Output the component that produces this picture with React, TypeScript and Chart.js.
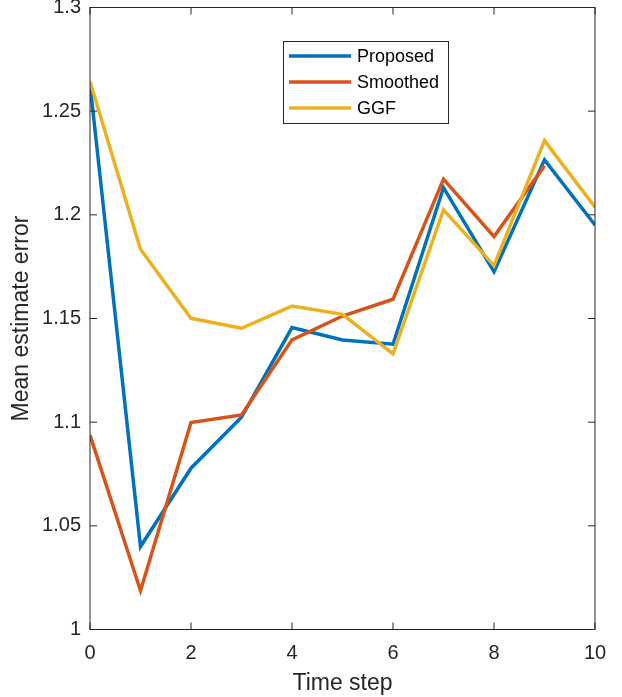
import React, { useEffect, useRef } from "react";
import { Chart, registerables } from "chart.js";

Chart.register(...registerables);

const timeSteps = [0, 1, 2, 3, 4, 5, 6, 7, 8, 9, 10];
const proposed = [1.263, 1.040, 1.0778, 1.1024, 1.1456, 1.1396, 1.1376, 1.2131, 1.1726, 1.2265, 1.1951];
const smoothed = [1.0938, 1.0187, 1.0998, 1.1035, 1.1397, 1.1512, 1.1593, 1.2172, 1.1895, 1.2237];
const ggf = [1.2643, 1.1834, 1.1501, 1.1453, 1.156, 1.152, 1.1329, 1.2024, 1.1755, 1.2358, 1.2037];
const seriesNames = ["Proposed", "Smoothed", "GGF"];
const seriesColors = ["#0072BD", "#D95319", "#EDB120"];
const xTickStep = 2;
const yMin = 1;
const yMax = 1.3;
const yTickStep = 0.05;

const FONT = "'Liberation Sans', Arial, Helvetica, sans-serif";
const AXIS_COLOR = "#262626";

const boxPlugin = {
  id: "matlabBox",
  afterDraw(chart: any) {
    const { ctx, chartArea } = chart;
    const { left, right, top, bottom } = chartArea;
    const xs = chart.scales.x;
    const ys = chart.scales.y;
    ctx.save();
    ctx.strokeStyle = AXIS_COLOR;
    ctx.lineWidth = 1;
    ctx.strokeRect(left, top, right - left, bottom - top);
    const tl = 7;
    ctx.beginPath();
    xs.ticks.forEach((t: any) => {
      const px = xs.getPixelForValue(t.value);
      ctx.moveTo(px, bottom);
      ctx.lineTo(px, bottom - tl);
      ctx.moveTo(px, top);
      ctx.lineTo(px, top + tl);
    });
    ys.ticks.forEach((t: any) => {
      const py = ys.getPixelForValue(t.value);
      ctx.moveTo(left, py);
      ctx.lineTo(left + tl, py);
      ctx.moveTo(right, py);
      ctx.lineTo(right - tl, py);
    });
    ctx.stroke();

    // legend
    const bx = 283, by = 41, bw = 165, bh = 82;
    ctx.fillStyle = "#ffffff";
    ctx.fillRect(bx, by, bw, bh);
    ctx.strokeStyle = AXIS_COLOR;
    ctx.lineWidth = 1;
    ctx.strokeRect(bx + 0.5, by + 0.5, bw, bh);
    ctx.font = `18px ${FONT}`;
    ctx.textBaseline = "middle";
    ctx.textAlign = "left";
    chart.data.datasets.forEach((ds: any, i: number) => {
      const yy = 56 + i * 26;
      ctx.strokeStyle = ds.borderColor;
      ctx.lineWidth = 3.5;
      ctx.beginPath();
      ctx.moveTo(289, yy);
      ctx.lineTo(351, yy);
      ctx.stroke();
      ctx.fillStyle = "#000000";
      ctx.fillText(ds.label, 357, yy + 1);
    });
    ctx.restore();
  },
};

export default function App() {
  const ref = useRef<HTMLCanvasElement | null>(null);
  useEffect(() => {
    if (!ref.current) return;
    const allSeries = [proposed, smoothed, ggf];
    const chart = new Chart(ref.current, {
      type: "line",
      data: {
        datasets: allSeries.map((vals, i) => ({
          label: seriesNames[i],
          data: vals.map((v, k) => ({ x: timeSteps[k], y: v })),
          borderColor: seriesColors[i],
          backgroundColor: seriesColors[i],
          borderWidth: 3.5,
          pointRadius: 0,
          tension: 0,
          fill: false,
          order: 3 - i,
        })),
      },
      options: {
        animation: false,
        responsive: false,
        events: [],
        layout: { padding: { left: 0, top: 7.5, right: 27, bottom: 0 } },
        plugins: { legend: { display: false }, tooltip: { enabled: false } },
        scales: {
          x: {
            type: "linear",
            min: timeSteps[0],
            max: timeSteps[timeSteps.length - 1],
            grid: { display: false, drawTicks: false },
            border: { display: false },
            ticks: {
              stepSize: xTickStep,
              padding: 12,
              color: AXIS_COLOR,
              font: { family: FONT, size: 20 },
              maxRotation: 0,
            },
            title: {
              display: true,
              text: "Time step",
              color: AXIS_COLOR,
              font: { family: FONT, size: 23 },
              padding: { top: 3, bottom: 0 },
            },
            afterFit: (s: any) => {
              s.height = 67.5;
              s.paddingLeft = 0;
              s.paddingRight = 0;
            },
          },
          y: {
            type: "linear",
            min: yMin,
            max: yMax,
            grid: { display: false, drawTicks: false },
            border: { display: false },
            ticks: {
              stepSize: yTickStep,
              padding: 9,
              color: AXIS_COLOR,
              font: { family: FONT, size: 20 },
              callback: (v: any) => String(Number(Number(v).toFixed(2))),
            },
            title: {
              display: true,
              text: "Mean estimate error",
              color: AXIS_COLOR,
              font: { family: FONT, size: 23 },
              padding: { top: 8, bottom: 0 },
            },
            afterFit: (s: any) => {
              s.width = 90;
              s.paddingTop = 0;
              s.paddingBottom = 0;
            },
          },
        },
      },
      plugins: [boxPlugin],
    });
    return () => chart.destroy();
  }, []);
  return (
    <div style={{ position: "fixed", left: 0, top: 0, width: 622, height: 697, background: "#fff" }}>
      <canvas ref={ref} width={622} height={697} style={{ width: 622, height: 697, display: "block" }} />
    </div>
  );
}
